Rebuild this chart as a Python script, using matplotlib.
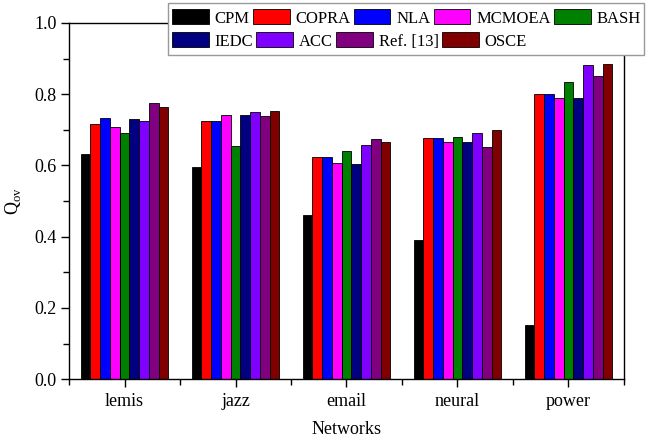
import matplotlib
matplotlib.use("Agg")
import matplotlib.pyplot as plt
import numpy
from matplotlib.patches import Patch, Rectangle
from matplotlib.ticker import MultipleLocator

plt.rcParams["font.family"] = ["Liberation Serif", "DejaVu Serif"]
plt.rcParams["font.size"] = 13

#%% data
networks = ["lemis", "jazz", "email", "neural", "power"]
methods = ["CPM", "COPRA", "NLA", "MCMOEA", "BASH", "IEDC", "ACC", "Ref. [13]", "OSCE"]
colors = ["#000000", "#FF0000", "#0000FF", "#FF00FF", "#008000",
          "#000080", "#8000FF", "#800080", "#800000"]

cpm = [0.633, 0.595, 0.460, 0.392, 0.153]
copra = [0.716, 0.724, 0.625, 0.677, 0.801]
nla = [0.733, 0.724, 0.625, 0.677, 0.801]
mcmoea = [0.709, 0.742, 0.606, 0.667, 0.788]
bash = [0.690, 0.654, 0.640, 0.680, 0.834]
iedc = [0.731, 0.742, 0.603, 0.667, 0.788]
acc = [0.724, 0.750, 0.658, 0.691, 0.882]
ref13 = [0.775, 0.740, 0.675, 0.651, 0.852]
osce = [0.764, 0.752, 0.665, 0.700, 0.884]
series = [cpm, copra, nla, mcmoea, bash, iedc, acc, ref13, osce]

#%% figure
fig = plt.figure(figsize=(6.56, 4.4), dpi=100)
ax = fig.add_axes([0.1052, 0.138, 0.846, 0.810])

x = numpy.arange(1, len(networks) + 1)
width = 0.088
handles = []
for i, (vals, c) in enumerate(zip(series, colors)):
    off = (i - 4) * width
    ax.bar(x + off, vals, width, color=c, edgecolor="black", linewidth=0.6)
    handles.append(Patch(facecolor=c, edgecolor="black", linewidth=0.6))

ax.set_xlim(0.5, 5.5)
ax.set_ylim(0, 1.0)
ax.set_xticks(x, networks)
ax.xaxis.set_minor_locator(MultipleLocator(1, offset=0.5))
ax.yaxis.set_major_locator(MultipleLocator(0.2))
ax.yaxis.set_minor_locator(MultipleLocator(0.1))
ax.yaxis.set_major_formatter(matplotlib.ticker.FormatStrFormatter("%.1f"))
ax.tick_params(which="major", direction="out", length=6, width=1, top=False, right=False)
ax.tick_params(which="minor", direction="out", length=4, width=1, top=False, right=False)
ax.tick_params(axis="x", pad=4)
ax.tick_params(axis="y", pad=3)
for s in ax.spines.values():
    s.set_linewidth(1)

ax.set_xlabel("Networks", labelpad=8)
ax.set_ylabel(r"Q$_\mathregular{ov}$", labelpad=8)

# legend: two rows, flowing like the original
frame = Rectangle((168 / 656, 1 - 55 / 440), (644 - 168) / 656, 52 / 440,
                  transform=fig.transFigure, facecolor="white",
                  edgecolor="#999999", linewidth=1, zorder=4)
fig.add_artist(frame)
legkw = dict(frameon=False, loc="center left", borderaxespad=0, borderpad=0,
             handlelength=2.2, handleheight=1.0, handletextpad=0.35,
             columnspacing=0.2, fontsize=12)
leg1 = fig.legend(handles[:5], methods[:5], ncol=5,
                  bbox_to_anchor=(172 / 656, 1 - 18 / 440), **legkw)
leg2 = fig.legend(handles[5:], methods[5:], ncol=4,
                  bbox_to_anchor=(172 / 656, 1 - 41 / 440), **legkw)
leg1.set_zorder(5)
leg2.set_zorder(5)

fig.savefig("out.png", dpi=100)
